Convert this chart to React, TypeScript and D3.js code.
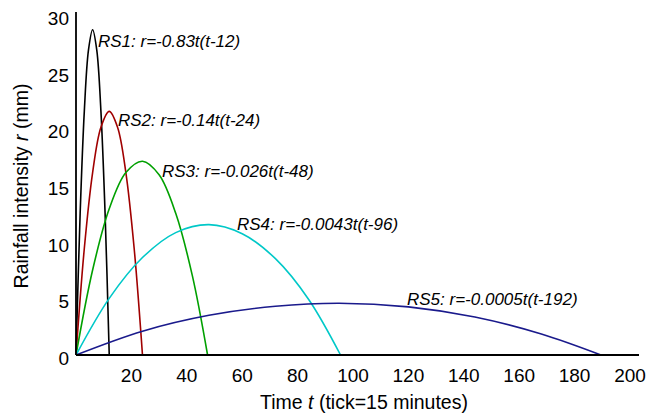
import React from "react";
import * as d3 from "d3";

const xTicks = [20, 40, 60, 80, 100, 120, 140, 160, 180, 200];
const yTicks = [0, 5, 10, 15, 20, 25, 30];

const rs1T = [0, 1.5, 3, 4.5, 6, 7.5, 9, 10.5, 12];
const rs1R = [0, 12.5, 21.5, 26.9, 28.7, 26.9, 21.5, 12.5, 0];
const rs2T = [0, 3, 6, 9, 12, 15, 18, 21, 24];
const rs2R = [0, 9.4, 16.1, 20.1, 21.5, 20.1, 16.1, 9.4, 0];
const rs3T = [0, 6, 12, 18, 24, 30, 36, 42, 47.5];
const rs3R = [0, 7.5, 12.9, 16.1, 17.1, 15.9, 12.5, 7.0, 0];
const rs4T = [0, 12, 24, 36, 48, 60, 72, 84, 95.5];
const rs4R = [0, 5.0, 8.6, 10.8, 11.5, 10.7, 8.5, 4.9, 0];
const rs5T = [0, 24, 48, 72, 95, 120, 144, 168, 189.5];
const rs5R = [0, 2.1, 3.5, 4.3, 4.57, 4.25, 3.35, 1.85, 0];

const seriesNames = ["RS1", "RS2", "RS3", "RS4", "RS5"];
const seriesLabels = [
  "RS1: r=-0.83t(t-12)",
  "RS2: r=-0.14t(t-24)",
  "RS3: r=-0.026t(t-48)",
  "RS4: r=-0.0043t(t-96)",
  "RS5: r=-0.0005t(t-192)",
];
const seriesColors = ["#000000", "#a00000", "#00a000", "#00c8c8", "#1a1a8c"];
const labelPos = [
  [98, 47],
  [118, 126],
  [162, 177],
  [237, 230],
  [407, 305],
];

export default function App() {
  const W = 661;
  const H = 419;
  const x = d3.scaleLinear().domain([0, 200]).range([76, 630]);
  const y = d3.scaleLinear().domain([0, 30]).range([355, 15]);
  const line = d3
    .line<[number, number]>()
    .x((d) => x(d[0]))
    .y((d) => y(d[1]))
    .curve(d3.curveCatmullRom.alpha(0.5));
  const data = [
    [rs1T, rs1R],
    [rs2T, rs2R],
    [rs3T, rs3R],
    [rs4T, rs4R],
    [rs5T, rs5R],
  ];
  const font = "'Liberation Sans', Arial, sans-serif";
  return (
    <svg
      width={W}
      height={H}
      style={{ position: "absolute", left: 0, top: 0, background: "#fff" }}
      fontFamily={font}
    >
      {data.map(([ts, rs], i) => (
        <path
          key={seriesNames[i]}
          d={line(ts.map((t, j) => [t, rs[j]] as [number, number])) || ""}
          fill="none"
          stroke={seriesColors[i]}
          strokeWidth={1.6}
        />
      ))}
      <line x1={76} x2={639} y1={y(0)} y2={y(0)} stroke="#000" strokeWidth={1.8} />
      <line x1={76} x2={76} y1={y(0)} y2={12} stroke="#000" strokeWidth={1.8} />
      {xTicks.map((t) => (
        <text key={t} x={x(t)} y={382} textAnchor="middle" fontSize={19}>
          {t}
        </text>
      ))}
      {yTicks.map((v) => (
        <text key={v} x={69} y={y(v) + 10} textAnchor="end" fontSize={19}>
          {v}
        </text>
      ))}
      <text x={364} y={409} textAnchor="middle" fontSize={19.5}>
        Time <tspan fontStyle="italic">t</tspan> (tick=15 minutes)
      </text>
      <text
        transform={`translate(28, 186) rotate(-90)`}
        textAnchor="middle"
        fontSize={19.5}
      >
        Rainfall intensity <tspan fontStyle="italic">r</tspan> (mm)
      </text>
      {seriesLabels.map((s, i) => (
        <text
          key={s}
          x={labelPos[i][0]}
          y={labelPos[i][1]}
          fontSize={17}
          fontStyle="italic"
        >
          {s}
        </text>
      ))}
    </svg>
  );
}
